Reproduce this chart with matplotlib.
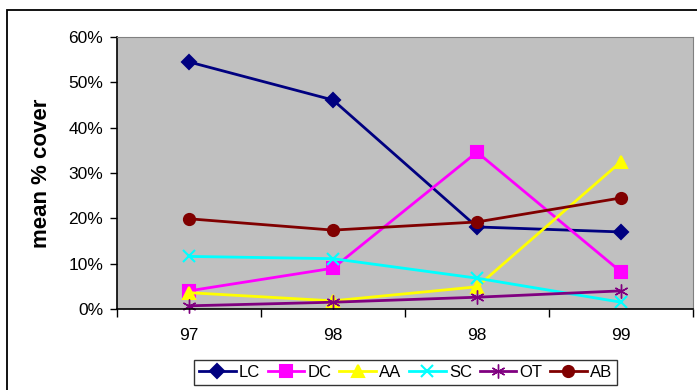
import matplotlib
matplotlib.use("Agg")
import matplotlib.pyplot as plt
from matplotlib.patches import Rectangle
from matplotlib.ticker import FixedLocator, PercentFormatter

plt.rcParams["font.family"] = ["Liberation Sans", "DejaVu Sans"]

years = ["97", "98", "98", "99"]
lc = [54.5, 46.1, 18.1, 17.0]
dc = [4.0, 9.0, 34.6, 8.2]
aa = [3.6, 1.8, 4.9, 32.5]
sc = [11.6, 11.1, 6.8, 1.5]
ot = [0.7, 1.5, 2.6, 4.0]
ab = [19.9, 17.4, 19.2, 24.5]

series = [
    ("LC", lc, "#000080", "D", 7),
    ("DC", dc, "#ff00ff", "s", 8),
    ("AA", aa, "#ffff00", "^", 8),
    ("SC", sc, "#00ffff", "x", 8),
    ("OT", ot, "#800080", (6, 2, 0), 10),
    ("AB", ab, "#800000", "o", 8),
]

fig = plt.figure(figsize=(6.97, 3.9), dpi=100)
fig.patches.append(Rectangle((7 / 697, -0.1), 1.2, 1.1 - 10 / 390, transform=fig.transFigure,
                             fill=False, edgecolor="black", lw=1.3))
ax = fig.add_axes([117 / 697, 81 / 390, 576 / 697, 272 / 390])
ax.set_facecolor("#c0c0c0")

x = range(len(years))
for name, vals, col, mk, ms in series:
    ax.plot(x, vals, color=col, lw=2, marker=mk, ms=ms, mfc=col, mec=col,
            mew=1.0 if name == "OT" else 1.5, label=name, clip_on=False)

ax.set_xlim(-0.5, 3.5)
ax.set_ylim(0, 60)
ax.set_yticks(range(0, 61, 10))
ax.yaxis.set_major_formatter(PercentFormatter(decimals=0))
ax.xaxis.set_major_locator(FixedLocator([-0.5, 0.5, 1.5, 2.5, 3.5]))
ax.xaxis.set_major_formatter(plt.NullFormatter())
ax.xaxis.set_minor_locator(FixedLocator(list(x)))
ax.set_xticklabels(years, minor=True)
ax.tick_params(axis="x", which="major", length=6, width=1, direction="out", color="black")
ax.tick_params(axis="x", which="minor", length=0, pad=14, labelsize=12.5)
ax.tick_params(axis="y", length=5, width=1, labelsize=12.5, pad=5)

for s in ("top", "right"):
    ax.spines[s].set_color("#808080")
for s in ("left", "bottom"):
    ax.spines[s].set_color("black")
    ax.spines[s].set_linewidth(1.2)

ax.set_ylabel("mean % cover", fontsize=16, fontweight="bold")
ax.yaxis.set_label_coords(-0.112, 0.5)

lg = fig.legend(loc="upper center", bbox_to_anchor=(0.582, 0.077), ncol=6, fontsize=12,
                frameon=True, fancybox=False, edgecolor="black", handlelength=2.2,
                handletextpad=0.2, columnspacing=0.45, borderpad=0.3, borderaxespad=0)
lg.get_frame().set_linewidth(1)

fig.savefig("out.png", dpi=100)
